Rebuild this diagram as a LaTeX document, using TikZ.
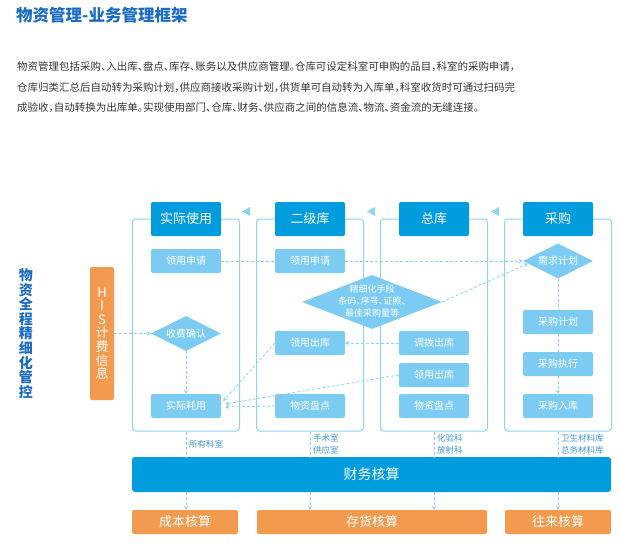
\documentclass[tikz,border=0pt]{standalone}
\usepackage{fontspec}
\usepackage{graphicx}
\setmainfont{Noto Sans CJK SC}
\newfontfamily\haltfont[RawFeature=+halt]{Noto Sans CJK SC}
\usetikzlibrary{shapes.geometric,arrows.meta,calc}
\definecolor{hdr}{HTML}{009CDE}
\definecolor{lb}{HTML}{7CCBF3}
\definecolor{ln}{HTML}{8ED3F5}
\definecolor{org}{HTML}{F29A4E}
\definecolor{ttl}{HTML}{1A6CC0}
\definecolor{txt}{HTML}{333333}
\definecolor{lbl}{HTML}{3F95D6}
\begin{document}
\begin{tikzpicture}[x=1pt,y=-1pt,
  col/.style={draw=ln,line width=1pt,rounded corners=3pt,minimum width=107pt,minimum height=212pt,inner sep=0pt},
  hdrbox/.style={fill=hdr,rounded corners=2pt,minimum width=70pt,minimum height=34pt,inner sep=0pt,text=white,font=\fontsize{13}{15}\selectfont},
  subbox/.style={fill=lb,rounded corners=2pt,minimum width=70pt,minimum height=24pt,inner sep=0pt,text=white,font=\fontsize{10}{12}\selectfont},
  dia/.style={diamond,fill=lb,minimum width=70pt,minimum height=35pt,inner sep=0pt,aspect=2,text=white,font=\fontsize{10}{12}\selectfont},
  orbox/.style={fill=org,rounded corners=2pt,minimum height=24pt,inner sep=0pt,text=white,font=\fontsize{13}{15}\selectfont},
  dl/.style={draw=ln,line width=0.8pt,dash pattern=on 3pt off 2pt},
  da/.style={dl,-{Stealth[length=4pt,width=4.5pt]}},
  lab/.style={anchor=west,text=lbl,align=left,inner sep=0pt,font=\fontsize{8.5}{12}\selectfont},
  para/.style={anchor=west,text=txt,inner sep=0pt,font=\haltfont\fontsize{10.5}{12}\selectfont}
]
\useasboundingbox (0,0) rectangle (621,546);

% title and paragraph
\node[anchor=west,inner sep=0pt,text=ttl,font=\fontsize{16.5}{18}\selectfont\bfseries] (title) at (16,15) {物资管理-业务管理框架};
\node[para] (p1) at (17,67) {\resizebox{498pt}{!}{物资管理包括采购、入出库、盘点、库存、账务以及供应商管理。仓库可设定科室可申购的品目，科室的采购申请，}};
\node[para] (p2) at (17,88) {\resizebox{498pt}{!}{仓库归类汇总后自动转为采购计划，供应商接收采购计划，供货单可自动转为入库单，科室收货时可通过扫码完}};
\node[para] (p3) at (17,108) {成验收，自动转换为出库单。实现使用部门、仓库、财务、供应商之间的信息流、物流、资金流的无缝连接。};

% left vertical title
\node[text=ttl,align=center,inner sep=0pt,font=\fontsize{14}{14.6}\selectfont\bfseries] (side) at (26,333.5) {物\\资\\全\\程\\精\\细\\化\\管\\控};

% HIS box
\node[fill=org,rounded corners=2pt,minimum width=24pt,minimum height=133pt,inner sep=0pt,text=white,align=center,font=\fontsize{13}{13.6}\selectfont] (his) at (102,333.5) {H\\I\\S\\计\\费\\信\\息};

% columns
\node[col] (c1) at (186,325) {};
\node[col] (c2) at (310,325) {};
\node[col] (c3) at (434,325) {};
\node[col] (c4) at (558,325) {};

% headers
\node[hdrbox] (h1) at (186,219) {实际使用};
\node[hdrbox] (h2) at (310,219) {二级库};
\node[hdrbox] (h3) at (434,219) {总库};
\node[hdrbox] (h4) at (558,219) {采购};

% small triangles
\fill[ln] (242,211.5) -- (250,207) -- (250,216) -- cycle;
\fill[ln] (367,211.5) -- (375,207) -- (375,216) -- cycle;
\fill[ln] (491,211.5) -- (499,207) -- (499,216) -- cycle;

% column 1
\node[subbox] (a1) at (186,261) {领用申请};
\node[dia] (fee) at (186,333.5) {收费确认};
\node[subbox] (act) at (186,406) {实际耗用};

% column 2
\node[subbox] (b1) at (310,261) {领用申请};
\node[subbox] (b2) at (310,343) {领用出库};
\node[subbox] (b3) at (310,406) {物资盘点};

% big diamond
\node[diamond,fill=lb,minimum width=140pt,minimum height=54pt,inner sep=0pt,aspect=2.6] (fine) at (372,302) {};
\node[text=white,align=center,inner sep=0pt,font=\haltfont\fontsize{9}{12}\selectfont] (finetxt) at (372,301) {精细化手段\\条码、序号、证照、\\最佳采购量等};

% column 3
\node[subbox] (d1) at (434,343) {调拨出库};
\node[subbox] (d2) at (434,375) {领用出库};
\node[subbox] (d3) at (434,406) {物资盘点};

% column 4
\node[dia] (dem) at (558,261) {需求计划};
\node[subbox] (pp) at (558,322) {采购计划};
\node[subbox] (pe) at (558,364) {采购执行};
\node[subbox] (pin) at (558,406) {采购入库};

% connectors
\draw[da] (his.east |- fee.west) -- (fee.west);
\draw[da] (fee.south) -- (act.north);
\draw[dl] (a1.east) -- (b1.west);
\draw[da] (b1.east) -- (dem.west);
\draw[da] (fine.east) -- (dem.185);
\draw[da] (d1.west) -- (b2.east);
\draw[da] (b2.west) -- ($(act.east)+(2,-5)$);
\draw[da] (d2.west) -- ($(act.east)+(4,-2)$);
\draw[da] (b3.west) -- ($(act.east)+(4,1)$);
\draw[dl] (dem.south) -- (pp.north);
\draw[dl] (pp.south) -- (pe.north);
\draw[da] (pe.south) -- (pin.north);

% finance
\node[fill=hdr,rounded corners=3pt,minimum width=479pt,minimum height=35pt,inner sep=0pt,text=white,font=\fontsize{14}{16}\selectfont] (fin) at (371.5,474.5) {财务核算};

\draw[dl] (c1.south) -- (c1.south |- fin.north);
\draw[dl] (c2.south) -- (c2.south |- fin.north);
\draw[dl] (c3.south) -- (c3.south |- fin.north);
\draw[dl] (c4.south) -- (c4.south |- fin.north);

\node[lab] (l1) at (189,444) {所有科室};
\node[lab] (l2) at (313,444) {手术室\\供应室};
\node[lab] (l3) at (437,444) {化验科\\放射科};
\node[lab] (l4) at (561,444) {卫生材料库\\总务材料库};

% bottom boxes
\node[orbox,minimum width=106pt] (cost) at (185,522) {成本核算};
\node[orbox,minimum width=230pt] (inv) at (372,522) {存货核算};
\node[orbox,minimum width=106pt] (wl) at (558,522) {往来核算};

\draw[da] (fin.south -| c1.south) -- (cost.north -| c1.south);
\draw[da] (fin.south -| c2.south) -- (inv.north -| c2.south);
\draw[da] (fin.south -| c3.south) -- (inv.north -| c3.south);
\draw[da] (fin.south -| c4.south) -- (wl.north -| c4.south);
\end{tikzpicture}
\end{document}
